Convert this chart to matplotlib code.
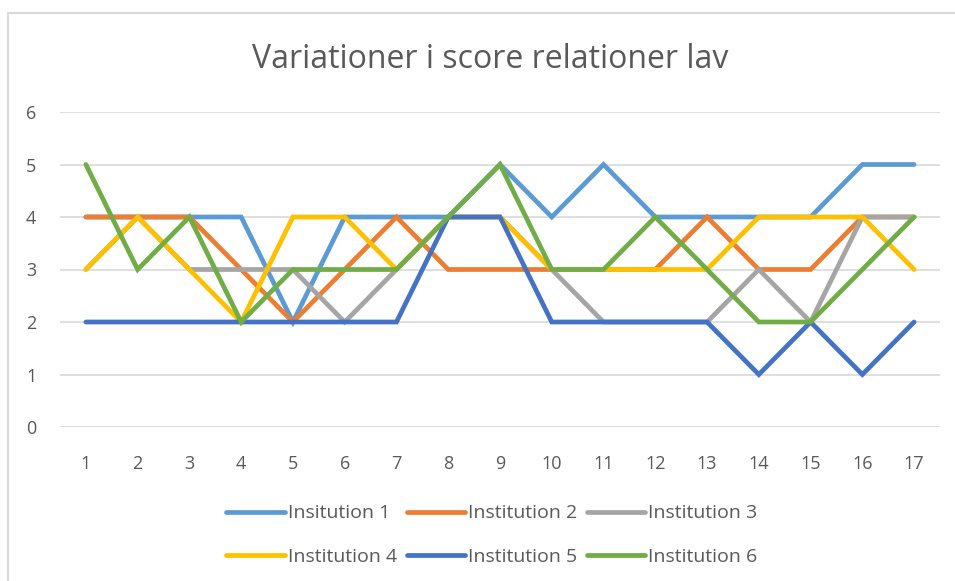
import matplotlib
matplotlib.use("Agg")
import matplotlib.pyplot as plt
from matplotlib.patches import Rectangle

points = list(range(1, 18))
labels = ["Insitution 1", "Institution 2", "Institution 3",
          "Institution 4", "Institution 5", "Institution 6"]
inst1 = [4, 4, 4, 4, 2, 4, 4, 4, 5, 4, 5, 4, 4, 4, 4, 5, 5]
inst2 = [4, 4, 4, 3, 2, 3, 4, 3, 3, 3, 3, 3, 4, 3, 3, 4, 4]
inst3 = [3, 4, 3, 3, 3, 2, 3, 4, 4, 3, 2, 2, 2, 3, 2, 4, 4]
inst4 = [3, 4, 3, 2, 4, 4, 3, 4, 4, 3, 3, 3, 3, 4, 4, 4, 3]
inst5 = [2, 2, 2, 2, 2, 2, 2, 4, 4, 2, 2, 2, 2, 1, 2, 1, 2]
inst6 = [5, 3, 4, 2, 3, 3, 3, 4, 5, 3, 3, 4, 3, 2, 2, 3, 4]
series = [inst1, inst2, inst3, inst4, inst5, inst6]
colors = ["#5B9BD5", "#ED7D31", "#A5A5A5", "#FFC000", "#4472C4", "#70AD47"]

plt.rcParams['font.family'] = ['Open Sans', 'DejaVu Sans']
txt = "#595959"

fig = plt.figure(figsize=(9.55, 5.81), dpi=100)
# chart border (cropped on right/bottom)
fig.patches.append(Rectangle((8 / 955, -0.1), 1.2, 1 - 13 / 581 + 0.1,
                             transform=fig.transFigure, fill=False,
                             edgecolor="#D9D9D9", linewidth=1.5))

ax = fig.add_axes([60 / 955, 1 - 427 / 581, 880 / 955, 315 / 581])
lines = []
for vals, lab, c in zip(series, labels, colors):
    ln, = ax.plot(points, vals, color=c, linewidth=3.4, label=lab,
                  solid_capstyle="round", solid_joinstyle="miter", clip_on=False)
    lines.append(ln)

ax.set_xlim(0.5, 17.5)
ax.set_ylim(0, 6)
ax.set_xticks(points)
ax.set_yticks(range(0, 7))
ax.grid(axis="y", color="#D9D9D9", linewidth=1.2)
ax.set_axisbelow(True)
for s in ax.spines.values():
    s.set_visible(False)
ax.tick_params(length=0, labelsize=13, labelcolor=txt)
ax.tick_params(axis="x", pad=20)
ax.tick_params(axis="y", pad=17)

fig.text(0.513, 1 - 60 / 581, "Variationer i score relationer lav",
         ha="center", va="center", fontsize=23, color=txt)

# legend fills column-wise, so reorder to read row by row
order = [0, 3, 1, 4, 2, 5]
leg = fig.legend([lines[i] for i in order], [labels[i] for i in order],
                 loc="center", bbox_to_anchor=(0.515, 1 - 535 / 581), ncol=3,
                 frameon=False, fontsize=14, handlelength=3.0,
                 handletextpad=0.15, columnspacing=0.5, labelspacing=1.3)
for t in leg.get_texts():
    t.set_color(txt)

fig.savefig("out.png", dpi=100)
